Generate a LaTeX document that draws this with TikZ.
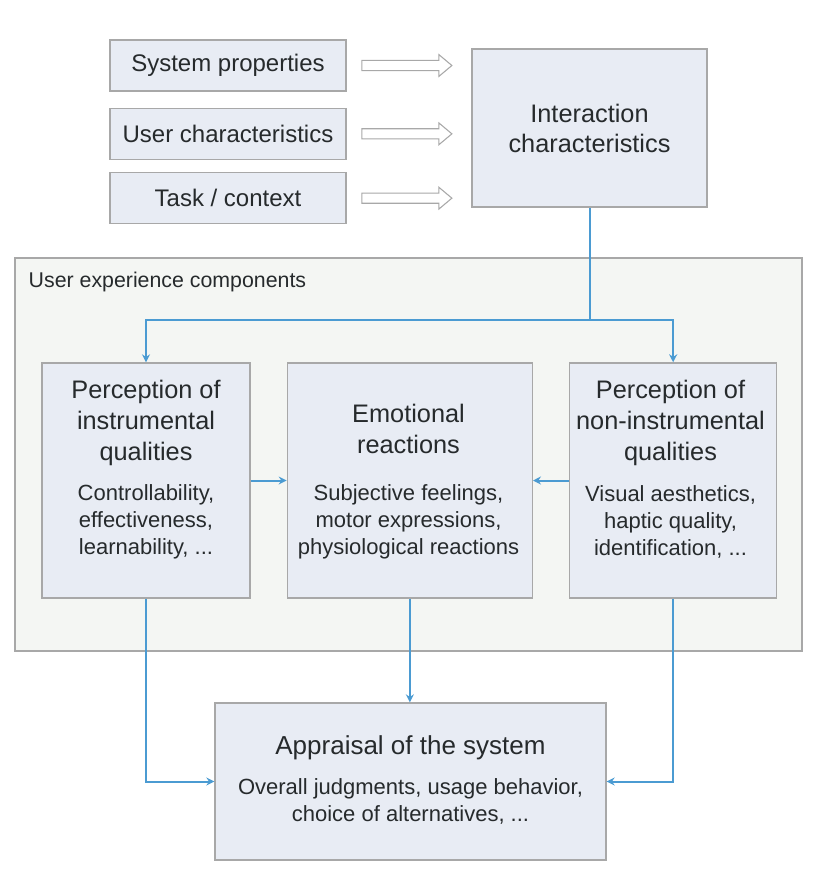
\documentclass[tikz,border=0pt]{standalone}
\usepackage{fontspec}
\setmainfont{Liberation Sans}
\usetikzlibrary{shapes.arrows, arrows.meta}
\usetikzlibrary{positioning}
\definecolor{boxfill}{HTML}{E8ECF4}
\definecolor{boxline}{HTML}{A8A8A8}
\definecolor{panel}{HTML}{F4F6F3}
\definecolor{flow}{HTML}{4B9BD2}
\definecolor{ink}{HTML}{262A2C}

\begin{document}
\begin{tikzpicture}[x=0.75pt, y=-0.75pt,
  box/.style={draw=boxline, fill=boxfill, line width=1pt, rectangle, text=ink, align=center},
  topbox/.style={box, minimum width=177pt, minimum height=38.25pt, font=\fontsize{18}{21}\selectfont},
  midbox/.style={box, minimum height=176.25pt},
  headtxt/.style={text=ink, align=center, font=\fontsize{19}{23.2}\selectfont},
  bodytxt/.style={text=ink, align=center, font=\fontsize{16.5}{20.3}\selectfont},
  fat/.style={single arrow, draw=boxline, fill=white, line width=0.8pt, inner sep=3.4pt,
    minimum height=67.5pt, single arrow head extend=4.4pt, single arrow tip angle=80},
  flowline/.style={draw=flow, line width=1.5pt},
  flowarr/.style={flowline, -{Stealth[length=6pt, width=6pt]}}
]
\useasboundingbox (0,0) rectangle (818,881);

% inputs
\node[topbox] (sys) at (228,65.5) {System properties};
\node[topbox] (user) [below=12pt of sys] {User characteristics};
\node[topbox] (task) [below=9pt of user] {Task / context};
\node[fat] (fa1) [right=11pt of sys] {};
\node[fat] (fa2) [right=11pt of user] {};
\node[fat] (fa3) [right=11pt of task] {};
\node[box, minimum width=176.25pt, minimum height=118.5pt, font=\fontsize{19}{22.5}\selectfont] (inter) at (589.5,128) {Interaction\\characteristics};

% components
\node[draw=boxline, fill=panel, line width=1pt, minimum width=590.25pt, minimum height=294.75pt] (ux) at (408.5,454.5) {};
\node[anchor=west, text=ink, font=\fontsize{16}{19}\selectfont] (uxlabel) at (24,282) {User experience components};

\node[midbox, minimum width=156pt] (instr) at (146,480.5) {};
\node[midbox, minimum width=183.75pt] (emo) [right=27pt of instr] {};
\node[midbox, minimum width=155.25pt] (noninstr) [right=27pt of emo] {};
\node[headtxt] (instrhead) at (146,423) {Perception of\\instrumental\\qualities};
\node[bodytxt] (instrbody) at (146,522) {Controllability,\\effectiveness,\\learnability, ...};
\node[headtxt] (emohead) at (408.5,428.5) {Emotional\\reactions};
\node[bodytxt] (emobody) at (408.5,522) {Subjective feelings,\\motor expressions,\\physiological reactions};
\node[headtxt] (noninstrhead) at (670.5,423) {Perception of\\non-instrumental\\qualities};
\node[bodytxt] (noninstrbody) at (670.5,522) {Visual aesthetics,\\haptic quality,\\identification, ...};

% outcome
\node[box, minimum width=293.25pt, minimum height=117.75pt] (appr) at (410.5,781.5) {};
\node[headtxt, font=\fontsize{19.5}{23.2}\selectfont] (apprhead) at (410.5,748) {Appraisal of the system};
\node[bodytxt] (apprbody) at (410.5,801.5) {Overall judgments, usage behavior,\\choice of alternatives, ...};

\coordinate (split) at (589.5,320);
\draw[flowline] (inter.south) -- (split);
\draw[flowarr] (split) -| (instr.north);
\draw[flowarr] (split) -| (noninstr.north);
\draw[flowarr] (instr) -- (emo);
\draw[flowarr] (noninstr) -- (emo);
\draw[flowarr] (instr.south) |- (appr.west);
\draw[flowarr] (emo.south) -- (emo.south |- appr.north);
\draw[flowarr] (noninstr.south) |- (appr.east);
\end{tikzpicture}
\end{document}
